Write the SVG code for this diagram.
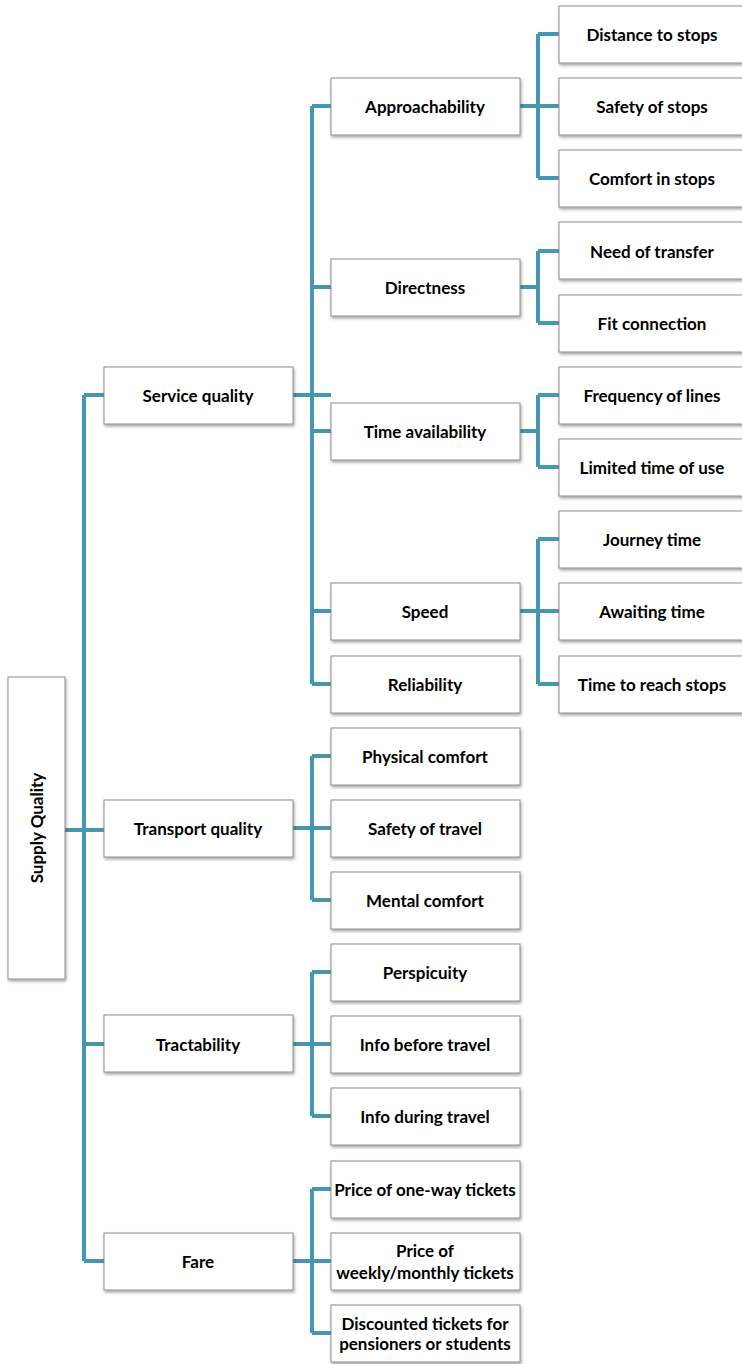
<svg xmlns="http://www.w3.org/2000/svg" width="742" height="1364" viewBox="0 0 742 1364">
<defs>
<filter id="sh" x="-10%" y="-10%" width="130%" height="140%">
<feDropShadow dx="1" dy="2" stdDeviation="1.5" flood-color="#000" flood-opacity="0.35"/>
</filter>
<style>
.b{fill:#fff;stroke:#8c8c8c;stroke-width:1;filter:url(#sh)}
.t{font-family:Lato,"Open Sans",sans-serif;font-weight:bold;font-size:17px;fill:#000;text-anchor:middle;dominant-baseline:central}
.c{fill:none;stroke:#4496b1;stroke-width:4}
</style>
</defs>
<rect width="742" height="1364" fill="#fff"/>
<g id="connectors">
<path class="c" d="M65 830H104M84 395V1261M84 395H104M84 1044H104M84 1261H104"/>
<path class="c" d="M293 395H331M312 106V684M312 106H331M312 287H331M312 431H331M312 611H331M312 684H331"/>
<path class="c" d="M293 828H331M312 756V900M312 756H331M312 900H331"/>
<path class="c" d="M293 1044H331M312 972V1116M312 972H331M312 1116H331"/>
<path class="c" d="M293 1261H331M312 1189V1333M312 1189H331M312 1333H331"/>
<path class="c" d="M520 106H559M538 34V178M538 34H559M538 178H559"/>
<path class="c" d="M520 287H538M538 251V323M538 251H559M538 323H559"/>
<path class="c" d="M520 431H538M538 395V467M538 395H559M538 467H559"/>
<path class="c" d="M520 611H559M538 539V684M538 539H559M538 684H559"/>
</g>
<g id="root"><rect class="b" x="8" y="677" width="57" height="302"/><text class="t" transform="translate(36 828) rotate(-90)">Supply Quality</text></g>
<g id="service"><rect class="b" x="104" y="367" width="189" height="57"/><text class="t" x="198" y="395">Service quality</text></g>
<g id="transport"><rect class="b" x="104" y="800" width="189" height="57"/><text class="t" x="198" y="828">Transport quality</text></g>
<g id="tractability"><rect class="b" x="104" y="1015" width="189" height="57"/><text class="t" x="198" y="1044">Tractability</text></g>
<g id="fare"><rect class="b" x="104" y="1233" width="189" height="57"/><text class="t" x="198" y="1261">Fare</text></g>
<g id="approach"><rect class="b" x="331" y="78" width="189" height="57"/><text class="t" x="425" y="106">Approachability</text></g>
<g id="directness"><rect class="b" x="331" y="259" width="189" height="57"/><text class="t" x="425" y="287">Directness</text></g>
<g id="timeavail"><rect class="b" x="331" y="403" width="189" height="57"/><text class="t" x="425" y="431">Time availability</text></g>
<g id="speed"><rect class="b" x="331" y="583" width="189" height="57"/><text class="t" x="425" y="611">Speed</text></g>
<g id="reliability"><rect class="b" x="331" y="656" width="189" height="57"/><text class="t" x="425" y="684">Reliability</text></g>
<g id="physical"><rect class="b" x="331" y="728" width="189" height="57"/><text class="t" x="425" y="756">Physical comfort</text></g>
<g id="safetytravel"><rect class="b" x="331" y="800" width="189" height="57"/><text class="t" x="425" y="828">Safety of travel</text></g>
<g id="mental"><rect class="b" x="331" y="872" width="189" height="57"/><text class="t" x="425" y="900">Mental comfort</text></g>
<g id="perspicuity"><rect class="b" x="331" y="944" width="189" height="57"/><text class="t" x="425" y="972">Perspicuity</text></g>
<g id="infobefore"><rect class="b" x="331" y="1016" width="189" height="57"/><text class="t" x="425" y="1044">Info before travel</text></g>
<g id="infoduring"><rect class="b" x="331" y="1088" width="189" height="57"/><text class="t" x="425" y="1116">Info during travel</text></g>
<g id="oneway"><rect class="b" x="331" y="1161" width="189" height="57"/><text class="t" x="425" y="1189">Price of one-way tickets</text></g>
<g id="weekly"><rect class="b" x="331" y="1233" width="189" height="57"/><text class="t" x="425" y="1250">Price of</text><text class="t" x="425" y="1272">weekly/monthly tickets</text></g>
<g id="discounted"><rect class="b" x="331" y="1305" width="189" height="57"/><text class="t" x="425" y="1323">Discounted tickets for</text><text class="t" x="425" y="1343">pensioners or students</text></g>
<g id="distance"><rect class="b" x="559" y="6" width="186" height="57"/><text class="t" x="652" y="34">Distance to stops</text></g>
<g id="safetystops"><rect class="b" x="559" y="78" width="186" height="57"/><text class="t" x="652" y="106">Safety of stops</text></g>
<g id="comfortstops"><rect class="b" x="559" y="150" width="186" height="57"/><text class="t" x="652" y="178">Comfort in stops</text></g>
<g id="transfer"><rect class="b" x="559" y="222" width="186" height="57"/><text class="t" x="652" y="251">Need of transfer</text></g>
<g id="fit"><rect class="b" x="559" y="295" width="186" height="57"/><text class="t" x="652" y="323">Fit connection</text></g>
<g id="frequency"><rect class="b" x="559" y="367" width="186" height="57"/><text class="t" x="652" y="395">Frequency of lines</text></g>
<g id="limited"><rect class="b" x="559" y="439" width="186" height="57"/><text class="t" x="652" y="467">Limited time of use</text></g>
<g id="journey"><rect class="b" x="559" y="511" width="186" height="57"/><text class="t" x="652" y="539">Journey time</text></g>
<g id="awaiting"><rect class="b" x="559" y="583" width="186" height="57"/><text class="t" x="652" y="611">Awaiting time</text></g>
<g id="reach"><rect class="b" x="559" y="656" width="186" height="57"/><text class="t" x="652" y="684">Time to reach stops</text></g>
</svg>
